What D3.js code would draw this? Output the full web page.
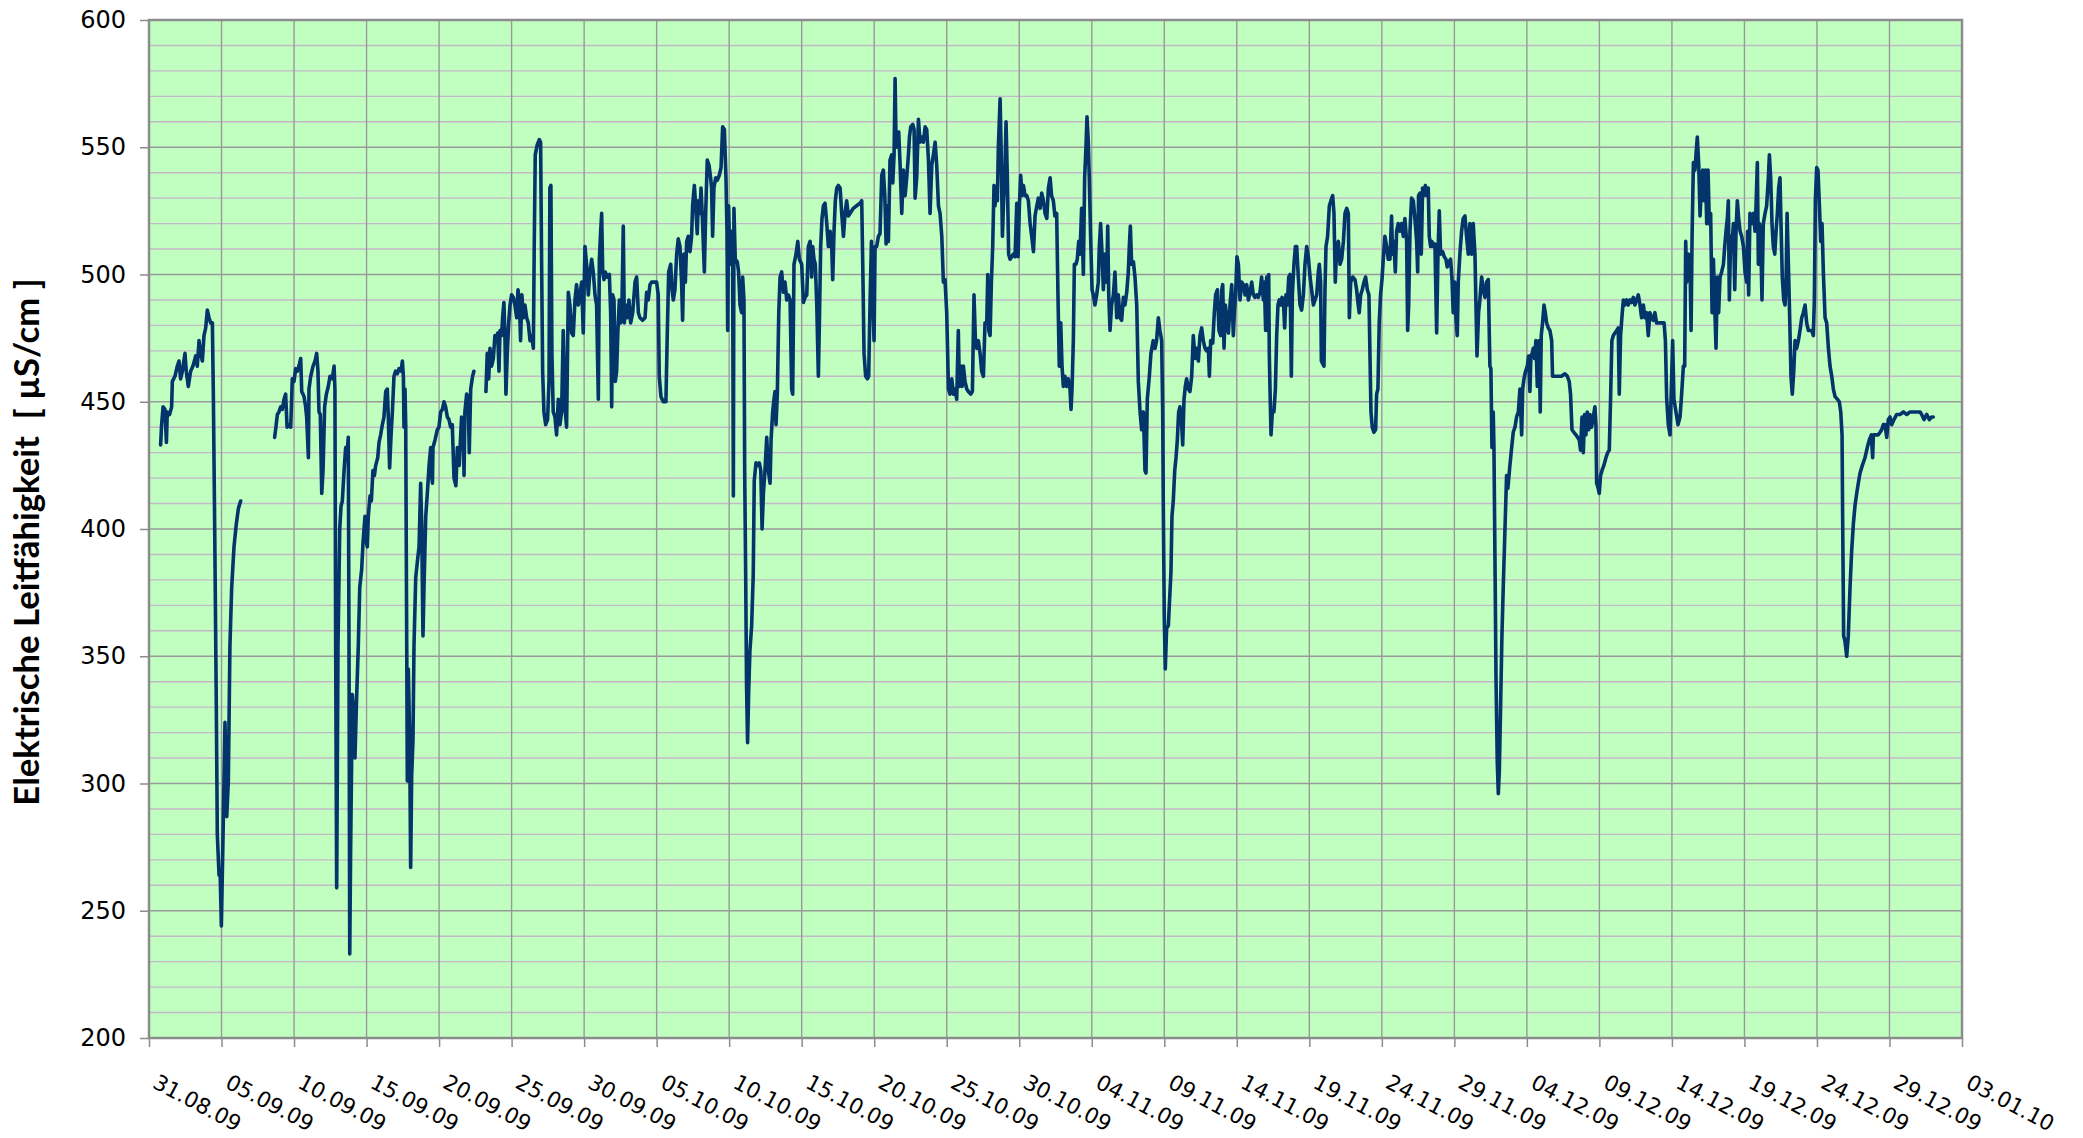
<!DOCTYPE html>
<html>
<head>
<meta charset="utf-8">
<script src="https://cdn.jsdelivr.net/npm/d3@7"></script>
<style>
  body { margin: 0; background: #fff; }
</style>
</head>
<body>
<div id="chart"></div>
<script>
// Readings: [days after 31.08.2009 00:00, conductivity in µS/cm], null = gap in the record
const startDate = Date.UTC(2009, 7, 31);
const endDate = Date.UTC(2010, 0, 3);

const tickLabels = ["31.08.09", "05.09.09", "10.09.09", "15.09.09", "20.09.09", "25.09.09",
  "30.09.09", "05.10.09", "10.10.09", "15.10.09", "20.10.09", "25.10.09", "30.10.09",
  "04.11.09", "09.11.09", "14.11.09", "19.11.09", "24.11.09", "29.11.09", "04.12.09",
  "09.12.09", "14.12.09", "19.12.09", "24.12.09", "29.12.09", "03.01.10"];

const yTicks = [200, 250, 300, 350, 400, 450, 500, 550, 600];

const sepReadings = [
  [0.80,433],[0.87,441],[0.97,448],[1.10,447],[1.20,434],[1.26,446],[1.42,445],[1.56,448],[1.61,458],[1.79,460],
  [1.95,464],[2.07,466],[2.18,459],[2.30,462],[2.48,469],[2.57,462],[2.71,456],[2.87,462],[3.03,464],[3.22,468],
  [3.33,464],[3.45,474],[3.56,469],[3.68,466],[3.79,476],[3.91,479],[4.02,486],[4.14,483],[4.25,481],[4.37,481],
  [4.44,451],[4.53,400],[4.64,331],[4.71,280],[4.83,264],[4.90,266],[4.99,244],[5.10,278],[5.24,324],[5.36,287],
  [5.47,301],[5.58,354],[5.70,377],[5.86,393],[6.02,402],[6.16,408],[6.32,411],[6.9,null],
  [8.66,436],[8.73,439],[8.85,445],[8.96,446],[9.08,448],[9.19,447],[9.31,451],[9.42,453],[9.52,440],[9.61,441],
  [9.77,440],[9.88,459],[10.00,458],[10.11,463],[10.23,462],[10.34,464],[10.46,467],[10.53,454],[10.62,453],[10.69,452],
  [10.80,448],[10.87,444],[10.99,428],[11.03,455],[11.15,460],[11.31,464],[11.45,466],[11.56,469],[11.65,462],[11.72,446],
  [11.81,445],[11.91,414],[12.00,423],[12.11,448],[12.23,453],[12.36,456],[12.48,460],[12.64,459],[12.76,464],[12.82,455],
  [12.87,354],[12.94,259],[13.03,354],[13.15,400],[13.24,409],[13.33,411],[13.45,423],[13.56,432],[13.67,431],[13.74,436],
  [13.79,354],[13.84,233],[13.90,273],[14.02,335],[14.13,326],[14.20,310],[14.30,331],[14.43,354],[14.53,377],[14.66,384],
  [14.76,395],[14.89,405],[14.99,395],[15.05,393],[15.12,405],[15.24,413],[15.33,411],[15.44,423],[15.54,421],[15.63,425],
  [15.77,428],[15.86,434],[15.97,437],[16.09,441],[16.20,444],[16.32,454],[16.43,455],[16.50,444],[16.59,424],[16.69,437],
  [16.78,446],[16.89,460],[17.00,462],[17.12,461],[17.24,463],[17.38,462],[17.47,466],[17.54,460],[17.58,440],[17.65,455],
  [17.70,441],[17.77,354],[17.81,301],[17.88,345],[17.97,319],[18.04,267],[18.11,303],[18.20,317],[18.27,354],[18.39,381],
  [18.50,387],[18.62,393],[18.73,418],[18.80,402],[18.89,358],[18.96,377],[19.08,405],[19.19,414],[19.31,425],[19.42,432],
  [19.49,421],[19.54,418],[19.58,432],[19.72,435],[19.88,439],[19.99,440],[20.11,446],[20.23,447],[20.34,450],[20.45,448],
  [20.57,444],[20.68,443],[20.80,440],[20.91,441],[21.03,420],[21.16,417],[21.26,432],[21.39,425],[21.55,444],[21.67,441],
  [21.72,421],[21.78,446],[21.90,453],[22.01,451],[22.08,430],[22.18,455],[22.31,460],[22.40,462],[22.8,null],
  [23.23,454],[23.32,469],[23.42,459],[23.51,471],[23.62,464],[23.74,467],[23.85,476],[23.97,474],[24.04,477],[24.13,462],
  [24.20,478],[24.31,476],[24.38,483],[24.47,489],[24.54,476],[24.61,453],[24.70,469],[24.80,481],[24.89,488],[25.00,492],
  [25.12,491],[25.23,488],[25.35,483],[25.44,494],[25.53,490],[25.62,474],[25.71,492],[25.81,483],[25.92,488],[26.04,483],
  [26.15,481],[26.27,474],[26.38,476],[26.50,471],[26.56,511],[26.63,547],[26.77,551],[26.91,553],[27.00,552],[27.07,504],
  [27.14,462],[27.23,446],[27.35,441],[27.48,443],[27.58,458],[27.64,534],[27.71,535],[27.78,469],[27.87,446],[27.99,444],
  [28.10,437],[28.22,451],[28.33,441],[28.45,446],[28.56,478],[28.68,448],[28.79,440],[28.91,493],[29.02,488],[29.14,477],
  [29.25,476],[29.37,490],[29.48,496],[29.60,488],[29.71,492],[29.83,497],[29.94,477],[30.06,511],[30.17,504],[30.29,492],
  [30.40,501],[30.52,506],[30.63,501],[30.75,492],[30.86,488],[30.98,451]
];

const octReadings = [
  [31.05,506],[31.14,517],[31.21,524],[31.28,501],[31.37,498],[31.46,501],[31.60,499],[31.74,500],[31.83,485],[31.90,448],
  [31.97,492],[32.06,490],[32.15,458],[32.24,462],[32.33,478],[32.43,490],[32.52,481],[32.61,488],[32.70,519],[32.77,481],
  [32.86,488],[32.98,483],[33.09,490],[33.21,481],[33.35,485],[33.51,497],[33.62,499],[33.74,485],[33.85,483],[34.03,482],
  [34.20,483],[34.31,493],[34.42,490],[34.54,496],[34.65,497],[34.82,497],[35.00,497],[35.11,492],[35.18,460],[35.30,452],
  [35.46,450],[35.64,450],[35.73,476],[35.83,501],[35.97,504],[36.06,494],[36.15,490],[36.26,494],[36.38,508],[36.49,514],
  [36.61,511],[36.72,497],[36.79,482],[36.88,508],[36.98,497],[37.07,513],[37.18,515],[37.30,509],[37.41,515],[37.48,527],
  [37.60,535],[37.69,527],[37.80,516],[37.87,529],[37.99,524],[38.06,534],[38.17,520],[38.29,501],[38.38,524],[38.49,545],
  [38.61,543],[38.72,538],[38.79,534],[38.86,515],[38.95,534],[39.07,538],[39.18,537],[39.32,539],[39.44,542],[39.55,558],
  [39.67,557],[39.78,538],[39.85,517],[39.90,478],[39.96,527],[40.06,504],[40.17,517],[40.24,504],[40.29,413],[40.33,526],
  [40.42,506],[40.56,505],[40.65,501],[40.75,488],[40.86,485],[40.93,499],[41.02,490],[41.07,423],[41.14,381],[41.20,338],
  [41.27,316],[41.34,335],[41.43,352],[41.55,362],[41.66,382],[41.73,419],[41.85,426],[41.95,425],[42.08,426],[42.18,423],
  [42.27,400],[42.36,414],[42.47,423],[42.59,436],[42.70,423],[42.82,418],[42.89,435],[43.00,446],[43.09,451],[43.16,454],
  [43.23,441],[43.32,453],[43.42,485],[43.51,499],[43.62,501],[43.74,493],[43.85,497],[43.97,490],[44.08,492],[44.20,490],
  [44.31,455],[44.38,453],[44.47,504],[44.61,508],[44.73,513],[44.84,506],[45.00,504],[45.12,489],[45.23,491],[45.35,492],
  [45.46,511],[45.58,513],[45.69,499],[45.76,511],[45.85,506],[45.94,504],[46.04,488],[46.15,460],[46.22,481],[46.31,511],
  [46.40,522],[46.50,527],[46.61,528],[46.73,520],[46.84,511],[46.96,517],[47.07,511],[47.14,498],[47.23,517],[47.32,529],
  [47.42,534],[47.53,535],[47.65,534],[47.76,524],[47.88,515],[47.99,524],[48.10,529],[48.22,523],[48.33,524],[48.56,526],
  [48.79,527],[49.02,528],[49.14,529],[49.21,504],[49.30,469],[49.41,460],[49.53,459],[49.62,460],[49.71,488],[49.81,513],
  [49.90,492],[49.99,474],[50.06,511],[50.17,511],[50.29,515],[50.40,516],[50.52,539],[50.63,541],[50.73,531],[50.82,512],
  [50.91,527],[50.98,513],[51.09,545],[51.21,547],[51.28,536],[51.37,547],[51.44,577],[51.51,550],[51.60,554],[51.69,556],
  [51.78,544],[51.90,524],[52.01,541],[52.13,531],[52.24,538],[52.36,547],[52.43,554],[52.52,558],[52.66,559],[52.75,557],
  [52.82,530],[52.93,538],[53.05,561],[53.16,552],[53.28,554],[53.39,552],[53.51,558],[53.62,557],[53.74,545],[53.85,524],
  [53.97,543],[54.08,547],[54.20,552],[54.31,543],[54.43,527],[54.54,524],[54.66,515],[54.77,497],[54.88,498],[55.00,485],
  [55.12,455],[55.23,453],[55.35,459],[55.46,453],[55.57,455],[55.69,451],[55.80,478],[55.87,456],[55.97,464],[56.06,456],
  [56.15,464],[56.26,458],[56.38,455],[56.49,454],[56.65,453],[56.77,454],[56.88,492],[56.98,474],[57.07,471],[57.18,474],
  [57.30,469],[57.41,462],[57.53,460],[57.64,481],[57.76,481],[57.83,500],[57.90,478],[57.99,476],[58.08,497],[58.17,511],
  [58.26,535],[58.33,527],[58.40,534],[58.49,529],[58.56,550],[58.68,569],[58.75,550],[58.84,515],[58.91,527],[59.00,538],
  [59.09,560],[59.18,538],[59.27,508],[59.37,506],[59.48,507],[59.60,508],[59.71,507],[59.83,528],[59.92,507],[60.01,527],
  [60.10,539],[60.19,531],[60.29,535],[60.40,531],[60.52,531],[60.63,529],[60.75,520],[60.86,515],[60.98,509],[61.09,523],
  [61.21,527],[61.32,530],[61.44,526],[61.55,532],[61.67,529],[61.78,524],[61.90,522]
];

const novReadings = [
  [62.01,534],[62.13,538],[62.23,531],[62.35,529],[62.46,523],[62.58,524],[62.67,492],[62.76,464],[62.86,481],[62.95,464],
  [63.04,456],[63.15,460],[63.27,456],[63.38,459],[63.50,455],[63.57,447],[63.64,455],[63.73,474],[63.80,504],[63.91,504],
  [64.00,506],[64.10,513],[64.19,508],[64.30,526],[64.42,500],[64.51,538],[64.60,550],[64.67,562],[64.76,552],[64.83,538],
  [64.92,515],[65.02,494],[65.11,492],[65.22,488],[65.34,492],[65.45,497],[65.52,511],[65.61,520],[65.71,508],[65.80,494],
  [65.91,508],[66.03,497],[66.10,519],[66.17,492],[66.26,478],[66.37,488],[66.49,492],[66.60,501],[66.72,483],[66.83,492],
  [66.95,483],[67.06,482],[67.18,491],[67.29,488],[67.41,493],[67.52,501],[67.59,511],[67.66,519],[67.75,504],[67.87,505],
  [67.98,499],[68.10,488],[68.21,458],[68.33,446],[68.44,439],[68.56,446],[68.67,423],[68.74,422],[68.83,451],[68.97,460],
  [69.08,469],[69.24,474],[69.36,471],[69.47,474],[69.59,483],[69.70,478],[69.82,474],[69.89,446],[69.93,411],[70.00,365],
  [70.07,345],[70.16,361],[70.28,362],[70.39,375],[70.46,383],[70.53,405],[70.62,411],[70.72,423],[70.81,428],[70.90,435],
  [70.99,446],[71.08,448],[71.20,441],[71.27,433],[71.36,451],[71.45,456],[71.54,459],[71.66,455],[71.77,454],[71.89,460],
  [72.00,476],[72.12,467],[72.23,471],[72.35,466],[72.46,476],[72.58,479],[72.69,474],[72.81,471],[72.92,470],[73.04,471],
  [73.11,460],[73.20,474],[73.34,473],[73.45,485],[73.54,492],[73.66,494],[73.77,478],[73.89,476],[73.96,494],[74.03,496],
  [74.12,471],[74.21,488],[74.30,483],[74.42,477],[74.53,488],[74.65,496],[74.76,476],[74.83,485],[74.92,492],[75.01,507],
  [75.11,504],[75.22,490],[75.34,497],[75.45,496],[75.57,492],[75.68,496],[75.80,490],[75.91,493],[76.03,497],[76.14,492],
  [76.25,491],[76.37,492],[76.48,491],[76.60,493],[76.71,499],[76.83,490],[76.90,497],[76.99,478],[77.06,499],[77.13,478],
  [77.20,500],[77.24,469],[77.29,455],[77.36,437],[77.45,446],[77.56,446],[77.66,455],[77.75,476],[77.84,488],[77.93,490],
  [78.02,488],[78.12,491],[78.21,490],[78.30,479],[78.39,492],[78.48,488],[78.58,499],[78.67,500],[78.76,460],[78.83,492],
  [78.94,504],[79.04,511],[79.13,511],[79.24,499],[79.36,488],[79.47,486],[79.59,492],[79.70,504],[79.82,511],[79.93,507],
  [80.05,499],[80.16,494],[80.28,488],[80.39,490],[80.51,492],[80.62,501],[80.69,504],[80.78,497],[80.83,466],[80.92,465],
  [81.01,464],[81.08,494],[81.15,511],[81.26,515],[81.38,527],[81.49,529],[81.61,531],[81.70,524],[81.79,497],[81.89,511],
  [82.00,513],[82.12,504],[82.23,506],[82.35,513],[82.46,524],[82.58,526],[82.69,524],[82.76,483],[82.85,497],[82.99,499],
  [83.15,498],[83.26,494],[83.37,488],[83.44,485],[83.54,492],[83.65,494],[83.77,497],[83.88,499],[84.00,494],[84.11,492],
  [84.18,469],[84.25,446],[84.34,440],[84.45,438],[84.57,439],[84.64,453],[84.73,455],[84.82,481],[84.91,492],[85.01,498],
  [85.10,506],[85.21,515],[85.33,511],[85.44,506],[85.56,506],[85.67,523],[85.74,508],[85.83,513],[85.93,501],[86.02,517],
  [86.13,520],[86.25,517],[86.36,520],[86.48,515],[86.59,522],[86.71,513],[86.78,478],[86.85,488],[86.94,517],[87.05,530],
  [87.17,529],[87.28,522],[87.40,513],[87.47,501],[87.53,531],[87.63,532],[87.72,508],[87.81,534],[87.90,531],[88.00,535],
  [88.09,531],[88.20,534],[88.27,515],[88.36,511],[88.45,513],[88.55,511],[88.66,512],[88.78,477],[88.87,508],[88.96,525],
  [89.05,508],[89.19,509],[89.30,507],[89.42,506],[89.51,503],[89.63,505],[89.74,506],[89.83,499],[89.92,485],[90.02,497],
  [90.11,483],[90.20,476],[90.27,497],[90.38,508],[90.50,517],[90.61,522],[90.73,523],[90.84,515],[90.96,508],[91.07,520],
  [91.19,508],[91.30,520],[91.42,508],[91.49,488],[91.56,468],[91.67,485],[91.76,490],[91.88,499],[91.99,494]
];

const decReadings = [
  [92.11,491],[92.22,497],[92.34,498],[92.45,464],[92.52,463],[92.59,432],[92.68,446],[92.73,432],[92.80,388],[92.87,342],
  [92.96,308],[93.03,296],[93.10,305],[93.19,331],[93.28,358],[93.37,377],[93.49,400],[93.60,421],[93.69,416],[93.83,425],
  [93.95,432],[94.06,438],[94.18,440],[94.29,444],[94.41,446],[94.52,455],[94.64,437],[94.71,455],[94.80,459],[94.91,462],
  [95.03,464],[95.12,468],[95.21,454],[95.28,468],[95.37,469],[95.44,471],[95.53,467],[95.62,474],[95.72,456],[95.79,471],
  [95.85,474],[95.92,446],[95.99,476],[96.08,481],[96.18,488],[96.27,485],[96.36,481],[96.48,479],[96.59,478],[96.71,474],
  [96.77,460],[96.93,460],[97.16,460],[97.39,460],[97.62,461],[97.79,460],[97.92,458],[98.01,453],[98.11,439],[98.24,438],
  [98.38,437],[98.50,436],[98.61,435],[98.70,431],[98.80,444],[98.89,430],[98.98,445],[99.07,437],[99.16,446],[99.26,439],
  [99.35,445],[99.46,440],[99.58,444],[99.69,448],[99.76,441],[99.81,418],[99.92,416],[99.99,414],[100.08,421],[100.18,423],
  [100.31,425],[100.45,428],[100.57,430],[100.68,431],[100.77,451],[100.86,474],[100.96,476],[101.07,477],[101.19,478],[101.30,479],
  [101.37,453],[101.46,476],[101.55,483],[101.65,490],[101.76,488],[101.88,490],[101.99,488],[102.11,490],[102.22,489],[102.34,491],
  [102.45,488],[102.57,490],[102.68,492],[102.80,488],[102.91,483],[103.03,488],[103.14,483],[103.25,485],[103.37,476],[103.48,485],
  [103.60,483],[103.71,482],[103.83,485],[103.94,481],[104.13,481],[104.29,481],[104.46,481],[104.55,474],[104.64,451],[104.75,441],
  [104.87,437],[104.96,455],[105.05,474],[105.14,451],[105.28,446],[105.42,441],[105.56,444],[105.67,453],[105.79,464],[105.88,464],
  [105.95,513],[106.02,497],[106.13,508],[106.25,504],[106.32,478],[106.39,515],[106.48,544],[106.59,541],[106.66,547],[106.75,554],
  [106.85,543],[106.94,523],[107.03,534],[107.12,541],[107.21,529],[107.31,541],[107.40,520],[107.49,541],[107.58,520],[107.67,524],
  [107.77,485],[107.86,506],[107.95,488],[108.04,471],[108.13,499],[108.22,485],[108.32,499],[108.43,501],[108.55,504],[108.64,511],
  [108.73,517],[108.82,522],[108.89,529],[108.96,490],[109.05,515],[109.14,511],[109.24,520],[109.33,494],[109.42,517],[109.51,529],
  [109.60,522],[109.70,517],[109.81,515],[109.93,511],[110.04,501],[110.16,497],[110.22,517],[110.29,492],[110.38,524],[110.50,520],
  [110.62,524],[110.73,517],[110.80,527],[110.89,544],[110.96,504],[111.03,520],[111.12,515],[111.21,490],[111.30,520],[111.42,524],
  [111.53,527],[111.65,538],[111.72,547],[111.81,538],[111.90,520],[111.99,511],[112.09,508],[112.18,517],[112.27,524],[112.36,534],
  [112.45,538],[112.52,520],[112.61,499],[112.71,490],[112.80,488],[112.87,497],[112.94,524],[113.03,504],[113.12,483],[113.21,460],
  [113.30,453],[113.40,462],[113.49,474],[113.60,471],[113.72,474],[113.83,478],[113.95,483],[114.06,485],[114.18,488],[114.29,481],
  [114.41,478],[114.52,478],[114.64,478],[114.75,476],[114.82,490],[114.89,529],[114.98,542],[115.07,541],[115.17,527],[115.26,513],
  [115.35,520],[115.44,501],[115.56,483],[115.67,481],[115.79,471],[115.90,464],[116.02,460],[116.13,455],[116.25,452],[116.41,451],
  [116.54,450],[116.64,446],[116.73,437],[116.77,405],[116.84,358],[116.93,356],[117.05,350],[117.16,358],[117.28,377],[117.39,391],
  [117.51,402],[117.62,409],[117.74,414],[117.85,418],[117.97,422],[118.13,425],[118.31,428],[118.47,432],[118.61,435],[118.75,437],
  [118.84,428],[118.89,437],[119.07,437],[119.23,437],[119.35,438],[119.46,439],[119.58,441],[119.69,441],[119.81,436],[119.92,443],
  [120.04,444],[120.15,441],[120.31,443],[120.50,445],[120.73,445],[120.96,446],[121.19,445],[121.42,446],[121.65,446],[121.88,446],
  [122.11,446],[122.22,445],[122.38,443],[122.57,445],[122.75,443],[122.91,444],[123.02,444]
];

const readings = [...sepReadings, ...octReadings, ...novReadings, ...decReadings];

// Set the dimensions and margins of the graph
const margin = { top: 20, right: 121, bottom: 100, left: 149 };
const width = 2083 - margin.left - margin.right;
const height = 1138 - margin.top - margin.bottom;

const dayMs = 24 * 3600 * 1000;
const toDate = d => new Date(startDate + d * dayMs);

const svg = d3.select("#chart")
  .append("svg")
  .attr("width", 2083)
  .attr("height", 1138)
  .style("display", "block");

const g = svg.append("g")
  .attr("transform", `translate(${margin.left},${margin.top})`);

// Scales
const x = d3.scaleUtc().domain([new Date(startDate), new Date(endDate)]).range([0, width]);
const y = d3.scaleLinear().domain([200, 600]).range([height, 0]);

const xTickDates = tickLabels.map((t, i) => new Date(startDate + i * 5 * dayMs));
const minorTicks = d3.range(200, 601, 10).filter(v => v % 50 !== 0);

// Plot background
g.append("rect")
  .attr("width", width)
  .attr("height", height)
  .attr("fill", "#c1ffc1");

// Minor horizontal gridlines
g.append("g").selectAll("line")
  .data(minorTicks)
  .join("line")
  .attr("x1", 0).attr("x2", width)
  .attr("y1", d => y(d)).attr("y2", d => y(d))
  .attr("stroke", "#c4b8c6")
  .attr("stroke-width", 1.4);

// Major horizontal gridlines
g.append("g").selectAll("line")
  .data(yTicks)
  .join("line")
  .attr("x1", 0).attr("x2", width)
  .attr("y1", d => y(d)).attr("y2", d => y(d))
  .attr("stroke", "#999")
  .attr("stroke-width", 1.4);

// Vertical gridlines
g.append("g").selectAll("line")
  .data(xTickDates)
  .join("line")
  .attr("x1", d => x(d)).attr("x2", d => x(d))
  .attr("y1", 0).attr("y2", height)
  .attr("stroke", "#999")
  .attr("stroke-width", 1.4);

// Define the line
const line = d3.line()
  .defined(d => d[1] !== null)
  .x(d => x(toDate(d[0])))
  .y(d => y(d[1]));

g.append("path")
  .datum(readings)
  .attr("fill", "none")
  .attr("stroke", "#03346a")
  .attr("stroke-width", 3.6)
  .attr("stroke-linejoin", "round")
  .attr("stroke-linecap", "round")
  .attr("d", line);

// Plot border
g.append("rect")
  .attr("width", width)
  .attr("height", height)
  .attr("fill", "none")
  .attr("stroke", "#8c8c8c")
  .attr("stroke-width", 2.5);

// Y Axis
const yAxis = g.append("g")
  .call(d3.axisLeft(y).tickValues(yTicks).tickSize(9).tickPadding(14));
yAxis.select(".domain").remove();
yAxis.selectAll(".tick line").attr("stroke", "#8c8c8c").attr("stroke-width", 1.5);
yAxis.selectAll(".tick text")
  .attr("fill", "#000")
  .style("font-family", "'DejaVu Sans', sans-serif")
  .style("font-size", "24px");

// X Axis
const xAxis = g.append("g")
  .attr("transform", `translate(0,${height})`)
  .call(d3.axisBottom(x).tickValues(xTickDates).tickSize(9).tickFormat((d, i) => tickLabels[i]));
xAxis.select(".domain").remove();
xAxis.selectAll(".tick line").attr("stroke", "#8c8c8c").attr("stroke-width", 1.5);
xAxis.selectAll(".tick text")
  .attr("x", null).attr("y", null).attr("dy", null)
  .attr("transform", "translate(2,49) rotate(28)")
  .attr("text-anchor", "start")
  .attr("fill", "#000")
  .style("font-family", "'DejaVu Sans', sans-serif")
  .style("font-size", "21.5px");

// Y Axis title
const title = svg.append("text")
  .attr("transform", "translate(39,542) rotate(-90)")
  .attr("text-anchor", "middle")
  .style("font-family", "Lato, 'Open Sans', sans-serif")
  .style("font-weight", "700")
  .style("font-size", "29px")
  .text("Elektrische Leitfähigkeit  [ µS/cm ]")
  .attr("xml:space", "preserve")
  .style("white-space", "pre");

// fit the title to the length it has in the original
const len = title.node().getComputedTextLength();
title.style("font-size", (29 * 527 / len).toFixed(1) + "px");
</script>
</body>
</html>
